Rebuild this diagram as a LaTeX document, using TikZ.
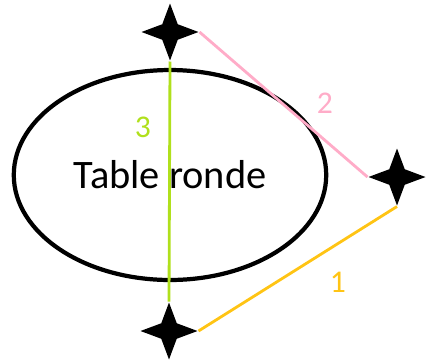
\documentclass[tikz,border=0pt]{standalone}
\usepackage{fontspec}
\setmainfont{Carlito}
\usetikzlibrary{shapes.geometric}

\definecolor{linkgreen}{RGB}{176,224,28}
\definecolor{linkpink}{RGB}{255,172,200}
\definecolor{linkorange}{RGB}{255,196,20}

\begin{document}
\begin{tikzpicture}[
  x=0.02cm, y=-0.02cm,
  seat/.style={
    star, star points=4, star point ratio=2.6,
    minimum size=1.14cm, inner sep=0pt,
    fill=black, draw=none
  },
  tablebox/.style={
    ellipse, draw=black, line width=2.4pt,
    minimum width=6.25cm, minimum height=4.2cm,
    inner sep=0pt, font=\fontsize{23}{26}\selectfont
  },
  link/.style={line width=1.6pt},
  linklabel/.style={font=\fontsize{18}{21}\selectfont, inner sep=1pt}
]
\useasboundingbox (0,0) rectangle (428,362);

% Table and seats
\node[tablebox] (table) at (170,175) {Table ronde};
\node[seat] (top)    at (170,32)  {};
\node[seat] (right)  at (397,177) {};
\node[seat] (bottom) at (169,331) {};

% Connections
\draw[link, draw=linkgreen]  (top.south) -- (bottom.north);
\draw[link, draw=linkpink]   (top.east) -- (right.west);
\draw[link, draw=linkorange] (bottom.east) -- (right.south);

% Labels
\node[linklabel, text=linkgreen]  (lgreen)  at (143,127) {3};
\node[linklabel, text=linkpink]   (lpink)   at (325,103) {2};
\node[linklabel, text=linkorange] (lorange) at (338,282) {1};

\end{tikzpicture}
\end{document}
